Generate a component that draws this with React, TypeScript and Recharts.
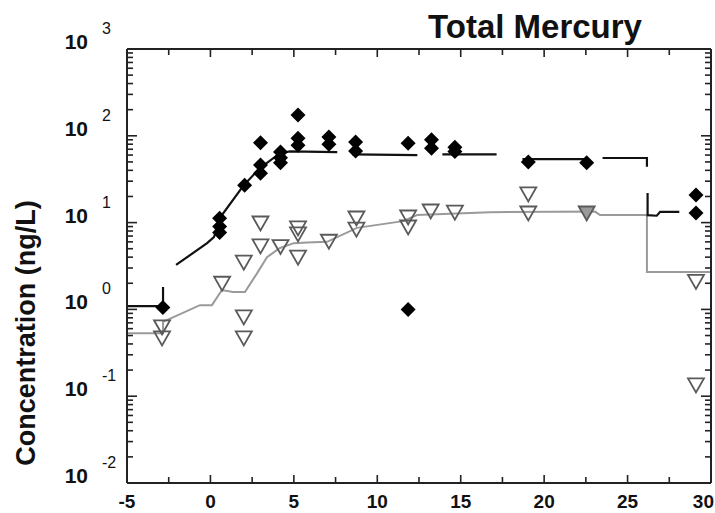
import { ComposedChart, Line, Scatter, XAxis, YAxis } from 'recharts'

// time axis (x) and concentration (y, log scale) ticks
const xMajor = [-5, 0, 5, 10, 15, 20, 25, 30]
const xTicks = [-5, -2.5, 0, 2.5, 5, 7.5, 10, 12.5, 15, 17.5, 20, 22.5, 25, 27.5, 30]
const yMajor = [0.01, 0.1, 1, 10, 100, 1000]
const yTicks: number[] = []
for (let k = -2; k < 3; k++) {
  for (let m = 1; m < 10; m++) yTicks.push(m * Math.pow(10, k))
}
yTicks.push(1000)

// observed total mercury (filled diamonds)
const unfilteredObs: [number, number][] = [
  [-2.85, 1.05],
  [0.55, 11.2], [0.55, 9.0], [0.55, 7.7],
  [2.05, 27],
  [3.0, 83], [3.0, 46], [3.0, 37],
  [4.2, 65], [4.2, 56], [4.2, 49],
  [5.25, 174], [5.25, 94], [5.25, 78],
  [7.1, 97], [7.1, 80],
  [8.7, 85], [8.7, 67],
  [11.85, 82], [11.85, 1.0],
  [13.25, 90], [13.25, 72],
  [14.65, 74], [14.65, 66],
  [19.05, 50],
  [22.55, 49],
  [29.1, 20.8], [29.1, 12.9],
]

// observed filtered mercury (open triangles)
const filteredObs: [number, number][] = [
  [-2.9, 0.63], [-2.9, 0.47],
  [0.7, 2.0],
  [2.0, 3.5], [2.0, 0.82], [2.0, 0.47],
  [3.0, 9.9], [3.0, 5.4],
  [4.2, 5.3],
  [5.25, 8.7], [5.25, 7.4], [5.25, 4.0],
  [7.1, 6.1],
  [8.75, 11.3], [8.75, 8.4],
  [11.85, 11.6], [11.85, 8.9],
  [13.2, 13.6],
  [14.65, 13.2],
  [19.05, 21.4], [19.05, 12.9],
  [29.1, 2.1], [29.1, 0.135],
]
const filteredShaded: [number, number][] = [[22.55, 12.9]]

// model curves (null = break in the line)
const unfilteredModel: [number, number | null][] = [
  [-5, 1.09], [-2.84, 1.09], [-2.84, 1.81], [-2.4, null],
  [-2.06, 3.25], [-0.2, 5.8], [0.21, 6.8], [0.69, 12.2], [2.0, 27], [2.97, 42.5],
  [4.17, 63], [4.77, 66], [7.6, 65], [8.0, null],
  [8.5, 61], [12.4, 60], [13.0, null],
  [13.9, 61], [17.15, 61], [18.0, null],
  [18.7, 54], [22.6, 54], [23.0, null],
  [23.5, 55.5], [26.16, 55.5], [26.16, 44], [26.18, null],
  [26.2, 21.9], [26.2, 12.2], [26.75, 12.0], [26.95, 13.3], [28.1, 13.3],
]
const filteredModel: [number, number][] = [
  [-5, 0.53], [-2.84, 0.53], [-2.84, 0.72], [-0.63, 1.12], [0.09, 1.12], [0.69, 1.67],
  [1.35, 1.59], [2.07, 1.59], [2.79, 2.6], [3.39, 4.0], [4.17, 5.1], [5.0, 5.8],
  [5.79, 5.9], [6.99, 6.0], [8.78, 8.7], [11.54, 10.4], [12.38, 12.2], [16.75, 13.2],
  [23.05, 13.4], [23.35, 12.2], [26.16, 12.2], [26.16, 2.7], [30, 2.7],
]

const toPts = (rows: [number, number | null][]) => rows.map(([x, y]) => ({ x, y }))

const FONT = '"Liberation Sans", Arial, Helvetica, sans-serif'
const AXIS = '#222'

const isMajorY = (v: number) => yMajor.some((m) => Math.abs(m - v) / m < 1e-6)

const LeftTick = ({ x, y, payload }: any) => {
  const v = payload.value
  const major = isMajorY(v)
  const px = Number(x)
  const py = Number(y)
  return (
    <g>
      <path d={`M${px},${py}H${px + (major ? 10 : 6)}`} stroke={AXIS} strokeWidth={1.6} />
      {major && (
        <>
          <text x={px - 39} y={py} textAnchor="end" fontSize={21} fontWeight="bold" fontFamily={FONT} fill="#111">
            10
          </text>
          <text x={px - 25} y={py - 15} textAnchor="start" fontSize={16} fontFamily={FONT} fill="#111">
            {Math.round(Math.log10(v))}
          </text>
        </>
      )}
    </g>
  )
}

const RightTick = ({ x, y, payload }: any) => {
  const major = isMajorY(payload.value)
  const px = Number(x)
  const py = Number(y)
  return <path d={`M${px},${py}H${px - (major ? 10 : 6)}`} stroke={AXIS} strokeWidth={1.6} />
}

const BottomTick = ({ x, y, payload }: any) => {
  const v = payload.value
  const major = xMajor.includes(v)
  // the last label sits on the chart edge, so keep it inside
  const last = v === xMajor[xMajor.length - 1]
  return (
    <g>
      <line x1={x} x2={x} y1={y} y2={y - (major ? 8 : 6)} stroke={AXIS} strokeWidth={1.6} />
      {major && (
        <text
          x={last ? x + 3 : x}
          y={y + 25}
          textAnchor={last ? 'end' : 'middle'}
          fontSize={19}
          fontWeight="bold"
          fontFamily={FONT}
          fill="#111"
        >
          {v}
        </text>
      )}
    </g>
  )
}

const TopTick = ({ x, y, payload }: any) => {
  const major = xMajor.includes(payload.value)
  return <line x1={x} x2={x} y1={y} y2={y + (major ? 8 : 6)} stroke={AXIS} strokeWidth={1.6} />
}

const Diamond = ({ cx, cy }: any) => (
  <path d={`M${cx},${cy - 7.5} L${cx + 7.5},${cy} L${cx},${cy + 7.5} L${cx - 7.5},${cy} Z`} fill="#000" />
)

const makeTriangle = (fill: string) => ({ cx, cy }: any) => (
  <path
    d={`M${cx - 8},${cy - 6.5} L${cx + 8},${cy - 6.5} L${cx},${cy + 7.5} Z`}
    fill={fill}
    stroke="#5a5a5a"
    strokeWidth={1.8}
    strokeLinejoin="miter"
  />
)

export default function App() {
  return (
    <div style={{ position: 'relative', width: 715, height: 513, background: '#fff' }}>
      <style>{'body{margin:0}'}</style>
      <ComposedChart width={715} height={513} margin={{ top: 39, right: 0, bottom: 0, left: 0 }}>
        <XAxis
          xAxisId="b"
          dataKey="x"
          type="number"
          domain={[-5, 30]}
          allowDataOverflow
          ticks={xTicks}
          interval={0}
          tickSize={0}
          tickMargin={0}
          tickLine={false}
          height={30}
          axisLine={{ stroke: AXIS, strokeWidth: 2 }}
          tick={<BottomTick />}
        />
        <XAxis
          xAxisId="t"
          orientation="top"
          dataKey="x"
          type="number"
          domain={[-5, 30]}
          allowDataOverflow
          ticks={xTicks}
          interval={0}
          tickSize={0}
          tickMargin={0}
          tickLine={false}
          height={10}
          axisLine={{ stroke: AXIS, strokeWidth: 2 }}
          tick={<TopTick />}
        />
        <YAxis
          yAxisId="l"
          dataKey="y"
          type="number"
          scale="log"
          domain={[0.01, 1000]}
          allowDataOverflow
          ticks={yTicks}
          interval={0}
          tickSize={0}
          tickMargin={0}
          tickLine={false}
          width={127}
          axisLine={{ stroke: AXIS, strokeWidth: 2 }}
          tick={<LeftTick />}
        />
        <YAxis
          yAxisId="r"
          orientation="right"
          dataKey="y"
          type="number"
          scale="log"
          domain={[0.01, 1000]}
          allowDataOverflow
          ticks={yTicks}
          interval={0}
          tickSize={0}
          tickMargin={0}
          tickLine={false}
          width={4}
          axisLine={{ stroke: AXIS, strokeWidth: 2 }}
          tick={<RightTick />}
        />
        <Line
          data={toPts(filteredModel)}
          xAxisId="b"
          yAxisId="l"
          dataKey="y"
          type="linear"
          stroke="#9a9a9a"
          strokeWidth={2}
          dot={false}
          connectNulls={false}
          isAnimationActive={false}
        />
        <Line
          data={toPts(unfilteredModel)}
          xAxisId="b"
          yAxisId="l"
          dataKey="y"
          type="linear"
          stroke="#111"
          strokeWidth={2.2}
          dot={false}
          connectNulls={false}
          isAnimationActive={false}
        />
        <Scatter data={toPts(filteredObs)} xAxisId="b" yAxisId="l" shape={makeTriangle('none')} isAnimationActive={false} />
        <Scatter data={toPts(filteredShaded)} xAxisId="b" yAxisId="l" shape={makeTriangle('#9a9a9a')} isAnimationActive={false} />
        <Scatter data={toPts(unfilteredObs)} xAxisId="b" yAxisId="l" shape={Diamond} isAnimationActive={false} />
      </ComposedChart>
      <svg width={715} height={513} style={{ position: 'absolute', left: 0, top: 0, pointerEvents: 'none' }}>
        <text x={535} y={38} textAnchor="middle" fontSize={33} fontWeight="bold" fontFamily={FONT} fill="#111">
          Total Mercury
        </text>
        <text
          x={35}
          y={333}
          transform="rotate(-90, 35, 333)"
          textAnchor="middle"
          fontSize={27}
          fontWeight="bold"
          fontFamily={FONT}
          fill="#111"
        >
          Concentration (ng/L)
        </text>
      </svg>
    </div>
  )
}
